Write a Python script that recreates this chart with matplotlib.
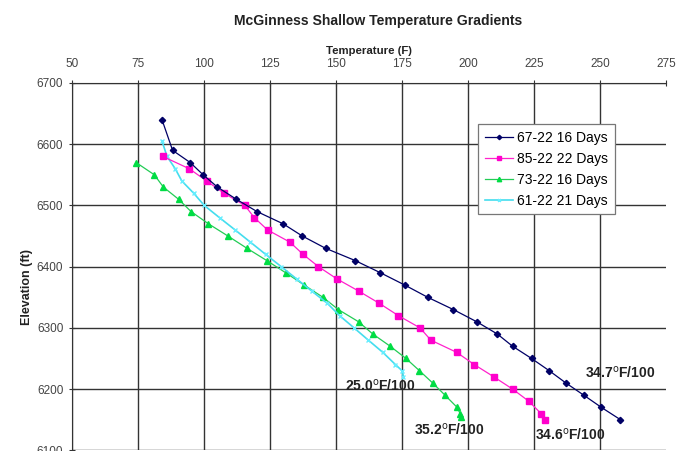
import numpy as np
from matplotlib import pyplot as plt

plt.rcParams['font.family'] = ['Liberation Sans', 'DejaVu Sans']

# 67-22 16 Days
elev_67 = [6640, 6590, 6570, 6550, 6530, 6510, 6490, 6470, 6450, 6430, 6410, 6390,
           6370, 6350, 6330, 6310, 6290, 6270, 6250, 6230, 6210, 6190, 6170, 6150]
temp_67 = [84, 88, 94.7, 99.6, 105, 112.2, 120, 129.9, 137.2, 146, 157.2, 166.8,
           176, 184.7, 194.4, 203.3, 211.1, 216.9, 224.1, 230.8, 237.1, 243.9, 250.6, 257.8]

# 85-22 22 Days
elev_85 = [6580, 6560, 6540, 6520, 6500, 6480, 6460, 6440, 6420, 6400, 6380, 6360,
           6340, 6320, 6300, 6280, 6260, 6240, 6220, 6200, 6180, 6160, 6150]
temp_85 = [84.3, 94.3, 100.9, 107.5, 115.4, 119, 124, 132.5, 137.5, 143.3, 150.3, 158.6,
           166.4, 173.6, 181.8, 185.9, 195.7, 202.4, 209.8, 216.9, 223.1, 227.7, 229.2]

# 73-22 16 Days
elev_73 = [6570, 6550, 6530, 6510, 6490, 6470, 6450, 6430, 6410, 6390, 6370, 6350,
           6330, 6310, 6290, 6270, 6250, 6230, 6210, 6190, 6170, 6160, 6155]
temp_73 = [74.2, 81.1, 84.5, 90.3, 95, 101.6, 109, 116.2, 123.7, 130.9, 137.9, 145,
           150.8, 158.5, 163.9, 170.5, 176.5, 181.6, 186.6, 191.3, 195.9, 197, 197.3]

# 61-22 21 Days
elev_61 = [6605, 6580, 6560, 6540, 6520, 6500, 6480, 6460, 6440, 6420, 6400, 6380,
           6360, 6340, 6320, 6300, 6280, 6260, 6240, 6230, 6220]
temp_61 = [84, 85.9, 89, 91.5, 96, 100, 105.8, 111.7, 117.5, 123.3, 129.2, 135,
           140.8, 146.7, 151.3, 156.8, 162.2, 167.7, 172.5, 175, 175.5]

x_ticks = [50, 75, 100, 125, 150, 175, 200, 225, 250, 275]
y_ticks = [6100, 6200, 6300, 6400, 6500, 6600, 6700]

# gradient labels: text, temperature, elevation
notes = [('34.7$^{\\rm o}$F/100', 244.5, 6218),
         ('25.0$^{\\rm o}$F/100', 153.2, 6197),
         ('35.2$^{\\rm o}$F/100', 179.5, 6126),
         ('34.6$^{\\rm o}$F/100', 225.5, 6118)]

fig = plt.figure(figsize=(6.76, 4.51), dpi=100)
ax = fig.add_axes([0.107, 0.0015, 0.878, 0.8145])

ax.plot(temp_67, elev_67, '-D', color='#000066', lw=0.9, ms=3.2, label='67-22 16 Days', zorder=5)
ax.plot(temp_85, elev_85, '-s', color='#ff22cc', mfc='#ff00cc', mec='#ff00cc', lw=0.9, ms=5,
        label='85-22 22 Days', zorder=4)
ax.plot(temp_73, elev_73, '-^', color='#22cc55', mfc='#00dd44', mec='#00dd44', lw=0.9, ms=4.5,
        label='73-22 16 Days', zorder=3)
ax.plot(temp_61, elev_61, '-x', color='#44ddee', mec='#66eeff', lw=1.2, ms=3,
        label='61-22 21 Days', zorder=3)

for txt, tx, ty in notes:
    ax.text(tx, ty, txt, fontsize=10, fontweight='bold', color='#222222', zorder=6)

ax.set_xlim(50, 275)
ax.set_ylim(6100, 6700)
ax.set_xticks(x_ticks)
ax.set_yticks(y_ticks)
ax.xaxis.tick_top()
ax.xaxis.set_label_position('top')
ax.tick_params(axis='both', direction='inout', length=5, width=0.8, color='#333333',
               labelsize=8.5, labelcolor='#444444')
ax.tick_params(axis='x', pad=6.5)
ax.tick_params(axis='y', pad=4)
ax.grid(True, color='#333333', lw=1.0)
ax.xaxis.get_gridlines()[-1].set_visible(False)
ax.set_axisbelow(True)
for side in ['right', 'bottom']:
    ax.spines[side].set_visible(False)
for side in ['left', 'top']:
    ax.spines[side].set_color('#333333')

ax.set_xlabel('Temperature (F)', fontsize=8.2, fontweight='bold', color='#222222')
ax.xaxis.set_label_coords(0.5, 1.078)
ax.set_ylabel('Elevation (ft)', fontsize=9, fontweight='bold', color='#222222')
ax.yaxis.set_label_coords(-0.066, 0.445)

fig.text(378 / 676, 1 - 21.5 / 451, 'McGinness Shallow Temperature Gradients',
         ha='center', va='center', fontsize=10.1, fontweight='bold', color='#222222')

leg = ax.legend(loc='upper left', bbox_to_anchor=(0.6835, 0.889), borderaxespad=0,
                fontsize=10, frameon=True, fancybox=False, edgecolor='#777777',
                framealpha=1, handlelength=2, markerscale=0.7,
                borderpad=0.5, labelspacing=0.5, handletextpad=0.3)
leg.get_frame().set_linewidth(0.9)

fig.savefig('out.png', dpi=100)
